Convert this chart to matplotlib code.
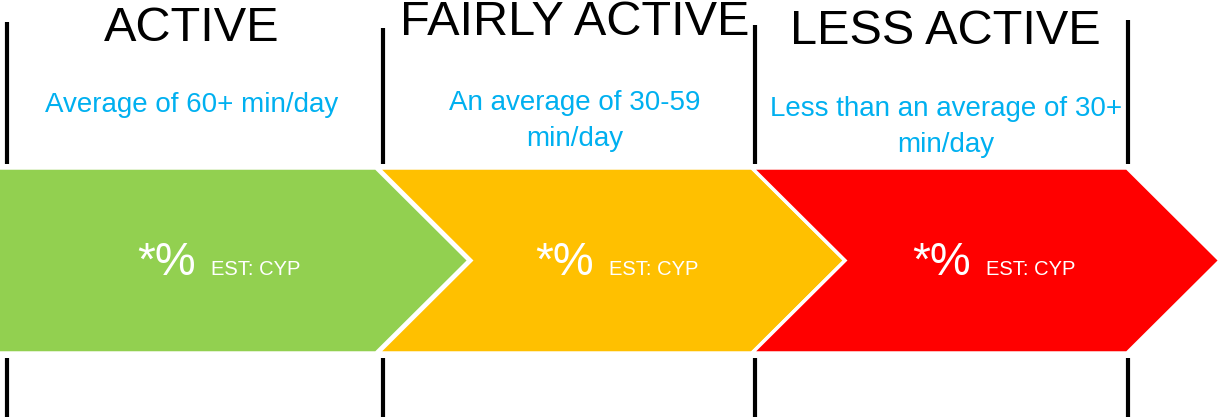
import matplotlib
matplotlib.use("Agg")
import matplotlib.pyplot as plt
from matplotlib.patches import Polygon

categories = ["ACTIVE", "FAIRLY ACTIVE", "LESS ACTIVE"]
descriptions = ["Average of 60+ min/day",
                "An average of 30-59\nmin/day",
                "Less than an average of 30+\nmin/day"]
values = ["*%", "*%", "*%"]
notes = ["EST: CYP", "EST: CYP", "EST: CYP"]
colors = ["#92D050", "#FFC000", "#FF0000"]

W, H = 1220, 417
fig = plt.figure(figsize=(W / 100, H / 100), dpi=100)
ax = fig.add_axes([0, 0, 1, 1])
ax.set_xlim(0, W)
ax.set_ylim(H, 0)
ax.axis("off")

font = "Liberation Sans"
seg_left = [-6, 378, 752]
seg_right = [376, 752, 1127]
tip = 93
top, bot = 168, 353
mid = (top + bot) / 2

for i, col in enumerate(colors):
    l, r = seg_left[i], seg_right[i]
    if i == 0:
        pts = [(l, top), (r, top), (r + tip, mid), (r, bot), (l, bot)]
    else:
        pts = [(l, top), (r, top), (r + tip, mid), (r, bot), (l, bot), (l + tip, mid)]
    ax.add_patch(Polygon(pts, closed=True, facecolor=col, edgecolor="white", lw=2.5, zorder=2))

# vertical separators
vx = [7, 383, 755, 1128]
vtop = [22, 28, 25, 20]
for x, t in zip(vx, vtop):
    ax.plot([x, x], [t, 164], color="black", lw=3, solid_capstyle="butt", zorder=1)
    ax.plot([x, x], [358, H], color="black", lw=3, solid_capstyle="butt", zorder=1)

title_x = [192, 575, 945]
title_y = [28, 22, 31]
for c, x, y in zip(categories, title_x, title_y):
    ax.text(x, y, c, ha="center", va="center", fontsize=35, family=font, color="black")

desc_x = [192, 575, 946]
desc_y = [105, 121, 127]
for d, x, y in zip(descriptions, desc_x, desc_y):
    ax.text(x, y, d, ha="center", va="center", fontsize=20, family=font,
            color="#00B0F0", linespacing=1.5)

val_x = [137, 535, 912]
for v, n, x in zip(values, notes, val_x):
    ax.text(x, 275, v, ha="left", va="baseline", fontsize=33, family=font, color="white")
    ax.text(x + 74, 275, n, ha="left", va="baseline", fontsize=14.5, family=font, color="white")

fig.savefig("out.png", dpi=100)
